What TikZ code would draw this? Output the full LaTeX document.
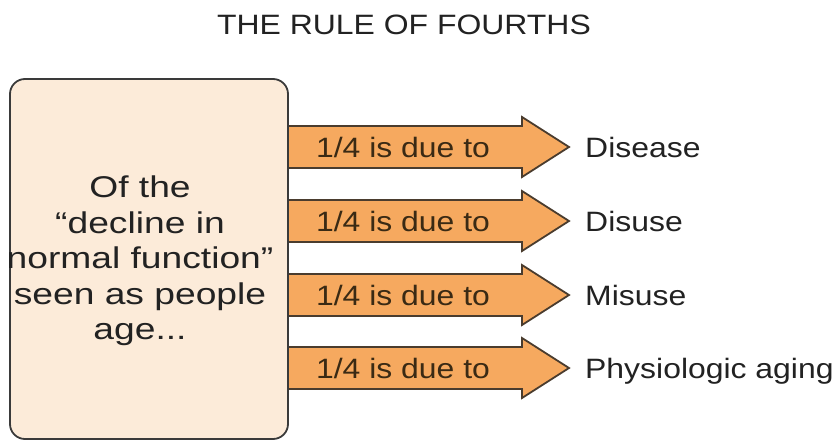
\documentclass[tikz,border=0pt]{standalone}
\usepackage{fontspec}
\setmainfont{Liberation Sans}[FakeStretch=1.14]
\newfontfamily\srcfont{Liberation Sans}[FakeStretch=1.24]
\definecolor{boxfill}{HTML}{FCEBD9}
\definecolor{boxline}{HTML}{3A3A3A}
\definecolor{arrowfill}{HTML}{F6A95F}
\definecolor{arrowline}{HTML}{4A3C2E}
\definecolor{arrowtext}{HTML}{3A2A14}
\definecolor{labeltext}{HTML}{222222}
\begin{document}
\begin{tikzpicture}[x=1pt,y=-1pt,
  txt/.style={font=\fontsize{28}{35}\selectfont, inner sep=0pt},
  srctxt/.style={font=\srcfont\fontsize{30}{35.5}\selectfont, inner sep=0pt},
  arr/.style={fill=arrowfill, draw=arrowline, line width=1.8pt, line join=miter},
  srcbox/.style={fill=boxfill, draw=boxline, line width=1.8pt, rounded corners=15pt}
]
\useasboundingbox (0,0) rectangle (840,442);
\node[txt, anchor=base, text=labeltext] (title) at (404,34) {THE RULE OF FOURTHS};
\foreach \y/\lab [count=\i] in {147/Disease, 221/Disuse, 295/Misuse, 368/Physiologic aging} {
  \draw[arr] (288,\y-21) -- (522,\y-21) -- (522,\y-30) -- (569,\y) -- (522,\y+30) -- (522,\y+21) -- (288,\y+21) -- cycle;
  \node[txt, anchor=base, text=arrowtext] (a\i) at (403,\y+10) {1/4 is due to};
  \node[txt, anchor=base west, text=labeltext] (l\i) at (585,\y+10) {\lab};
}
\draw[srcbox] (10,79) rectangle (288,439);
\node[srctxt, align=center, text=labeltext] (src) at (140,261) {Of the\\“decline in\\normal function”\\seen as people\\age...};
\end{tikzpicture}
\end{document}
